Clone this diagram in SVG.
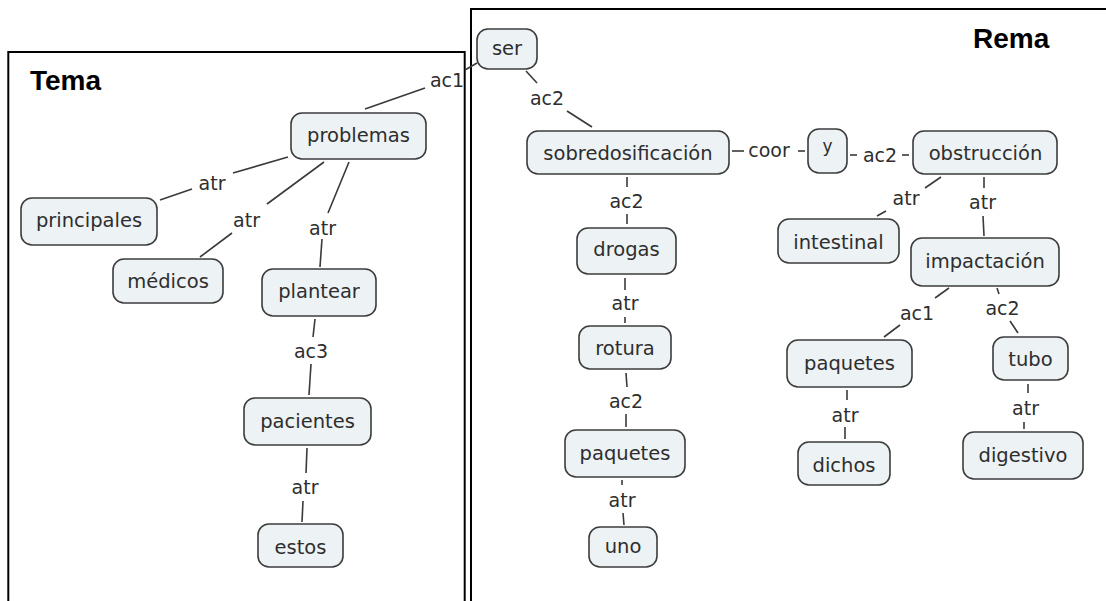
<svg xmlns="http://www.w3.org/2000/svg" width="1106" height="601" viewBox="0 0 1106 601">
<style>
.frame{fill:none;stroke:#000;stroke-width:2}
.title{font-family:"Liberation Sans",Arial,sans-serif;font-weight:bold;font-size:28px;fill:#000}
.node rect{fill:#edf2f5;stroke:#3c3c3c;stroke-width:1.6}
.node text,.lbl{font-family:"DejaVu Sans","Noto Sans",sans-serif;font-size:19.5px;fill:#2e2e2e;text-anchor:middle}
.lbl{font-size:19px}
.conn line{stroke:#3a3a3a;stroke-width:1.6}
</style>
<rect width="1106" height="601" fill="#fff"/>
<rect class="frame" x="8.3" y="52" width="456.4" height="600"/>
<rect class="frame" x="471" y="9" width="700" height="640"/>
<text class="title" x="30" y="90">Tema</text>
<text class="title" x="973" y="48">Rema</text>

<g id="connectors" class="conn">
<line x1="365" y1="109" x2="425" y2="88"/>
<line x1="465" y1="70" x2="477" y2="63"/>
<line x1="288" y1="157" x2="233" y2="173"/>
<line x1="192" y1="189" x2="160" y2="200"/>
<line x1="324" y1="162" x2="267" y2="204"/>
<line x1="232" y1="233" x2="200" y2="257"/>
<line x1="349" y1="162" x2="328" y2="213"/>
<line x1="322" y1="239" x2="320" y2="267"/>
<line x1="315" y1="319" x2="313" y2="337"/>
<line x1="311" y1="364" x2="309" y2="395"/>
<line x1="307" y1="448" x2="306" y2="473"/>
<line x1="303" y1="501" x2="302" y2="522"/>
<line x1="526" y1="71" x2="537" y2="83"/>
<line x1="567" y1="111" x2="592" y2="127"/>
<line x1="732" y1="151" x2="744" y2="151"/>
<line x1="798" y1="151" x2="805" y2="151"/>
<line x1="850" y1="155" x2="857" y2="155"/>
<line x1="902" y1="155" x2="909" y2="155"/>
<line x1="627" y1="177" x2="627" y2="187"/>
<line x1="627" y1="214" x2="627" y2="224"/>
<line x1="941" y1="177" x2="925" y2="188"/>
<line x1="886" y1="211" x2="877" y2="216"/>
<line x1="984" y1="177" x2="984" y2="188"/>
<line x1="983" y1="216" x2="984" y2="236"/>
<line x1="625" y1="278" x2="625" y2="290"/>
<line x1="625" y1="317" x2="625" y2="323"/>
<line x1="626" y1="373" x2="627" y2="387"/>
<line x1="626" y1="414" x2="626" y2="427"/>
<line x1="622" y1="480" x2="622" y2="485"/>
<line x1="623" y1="513" x2="624" y2="525"/>
<line x1="949" y1="288" x2="935" y2="298"/>
<line x1="900" y1="325" x2="884" y2="337"/>
<line x1="997" y1="288" x2="999" y2="294"/>
<line x1="1010" y1="321" x2="1018" y2="333"/>
<line x1="1028" y1="384" x2="1028" y2="393"/>
<line x1="1024" y1="422" x2="1024" y2="429"/>
<line x1="847" y1="390" x2="847" y2="400"/>
<line x1="845" y1="427" x2="845" y2="439"/>
<text class="lbl" x="447" y="87">ac1</text>
<text class="lbl" x="212" y="190">atr</text>
<text class="lbl" x="246.5" y="227">atr</text>
<text class="lbl" x="322.5" y="235">atr</text>
<text class="lbl" x="311" y="358">ac3</text>
<text class="lbl" x="305" y="494">atr</text>
<text class="lbl" x="547" y="105">ac2</text>
<text class="lbl" x="769" y="157">coor</text>
<text class="lbl" x="880" y="162">ac2</text>
<text class="lbl" x="626.5" y="208">ac2</text>
<text class="lbl" x="906" y="205">atr</text>
<text class="lbl" x="982.5" y="209">atr</text>
<text class="lbl" x="625" y="310">atr</text>
<text class="lbl" x="626" y="408">ac2</text>
<text class="lbl" x="622" y="507">atr</text>
<text class="lbl" x="917" y="320">ac1</text>
<text class="lbl" x="1002.5" y="315">ac2</text>
<text class="lbl" x="1025.5" y="415">atr</text>
<text class="lbl" x="845" y="422">atr</text>
</g>

<g id="n-problemas" class="node"><rect x="291" y="113" width="135" height="46" rx="11"/><text x="358.5" y="142">problemas</text></g>
<g id="n-principales" class="node"><rect x="21" y="198" width="136" height="47" rx="11"/><text x="89" y="227">principales</text></g>
<g id="n-medicos" class="node"><rect x="113" y="259" width="110" height="44" rx="11"/><text x="168" y="288">médicos</text></g>
<g id="n-plantear" class="node"><rect x="262" y="269" width="114" height="47" rx="11"/><text x="319" y="298">plantear</text></g>
<g id="n-pacientes" class="node"><rect x="244" y="398" width="127" height="47" rx="11"/><text x="307.5" y="428">pacientes</text></g>
<g id="n-estos" class="node"><rect x="258" y="524" width="85" height="43" rx="11"/><text x="300.5" y="554">estos</text></g>

<g id="n-ser" class="node"><rect x="477" y="29" width="60" height="40" rx="11"/><text x="507" y="55">ser</text></g>
<g id="n-sobredosificacion" class="node"><rect x="527" y="131" width="202" height="43" rx="11"/><text x="628" y="160">sobredosificación</text></g>
<g id="n-y" class="node"><rect x="808" y="129" width="39" height="44" rx="11"/><text x="827.5" y="152" style="font-size:17px">y</text></g>
<g id="n-obstruccion" class="node"><rect x="913" y="131" width="144" height="43" rx="11"/><text x="985.5" y="160">obstrucción</text></g>
<g id="n-intestinal" class="node"><rect x="778" y="219" width="121" height="44" rx="11"/><text x="838.5" y="249">intestinal</text></g>
<g id="n-impactacion" class="node"><rect x="911" y="238" width="148" height="48" rx="11"/><text x="985" y="268">impactación</text></g>
<g id="n-drogas" class="node"><rect x="577" y="228" width="99" height="46" rx="11"/><text x="626.5" y="256">drogas</text></g>
<g id="n-rotura" class="node"><rect x="579" y="326" width="92" height="43" rx="11"/><text x="625" y="355">rotura</text></g>
<g id="n-paquetes1" class="node"><rect x="565" y="430" width="120" height="47" rx="11"/><text x="625" y="460">paquetes</text></g>
<g id="n-uno" class="node"><rect x="589" y="527" width="68" height="40" rx="11"/><text x="623" y="553">uno</text></g>
<g id="n-paquetes2" class="node"><rect x="787" y="340" width="125" height="47" rx="11"/><text x="849.5" y="370">paquetes</text></g>
<g id="n-dichos" class="node"><rect x="798" y="442" width="92" height="43" rx="11"/><text x="844" y="472">dichos</text></g>
<g id="n-tubo" class="node"><rect x="993" y="337" width="75" height="43" rx="11"/><text x="1030.5" y="366">tubo</text></g>
<g id="n-digestivo" class="node"><rect x="963" y="432" width="120" height="47" rx="11"/><text x="1023" y="462">digestivo</text></g>
</svg>
